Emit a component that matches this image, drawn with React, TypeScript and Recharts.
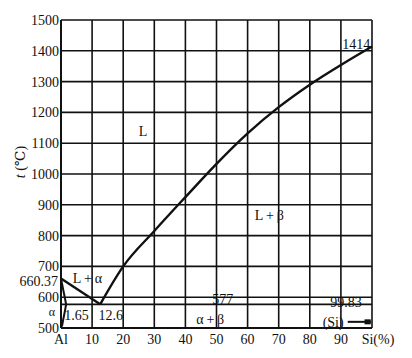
import React from 'react';
import {
  ComposedChart,
  Line,
  XAxis,
  YAxis,
  CartesianGrid,
  ReferenceDot,
  ReferenceLine
} from 'recharts';

// composition ticks (wt% Si) and temperature ticks (°C)
const X_TICKS = [0, 10, 20, 30, 40, 50, 60, 70, 80, 90, 100];
const T_TICKS = [500, 600, 700, 800, 900, 1000, 1100, 1200, 1300, 1400, 1500];

// liquidus, Al side: melting point of Al down to the eutectic
const LIQ_AL = [
  { x: 0, t: 660.37 },
  { x: 12.6, t: 577 }
];

// liquidus, Si side: eutectic up to melting point of Si
const LIQ_SI = [
  { x: 12.6, t: 577 },
  { x: 20, t: 700 },
  { x: 30, t: 815 },
  { x: 40, t: 925 },
  { x: 50, t: 1033 },
  { x: 60, t: 1132 },
  { x: 70, t: 1217 },
  { x: 80, t: 1290 },
  { x: 90, t: 1354 },
  { x: 100, t: 1414 }
];

// alpha solidus + solvus
const SOLIDUS_AL = [
  { x: 0, t: 660.37 },
  { x: 1.65, t: 577 }
];
const SOLVUS_AL = [
  { x: 1.65, t: 577 },
  { x: 1.2, t: 552 },
  { x: 0.7, t: 527 },
  { x: 0.3, t: 505 }
];

// eutectic isotherm (drawn from the axis, where the α label points)
const EUTECTIC = [
  { x: 0, t: 577 },
  { x: 100, t: 577 }
];

// region / point annotations
const NOTES = [
  { x: 26.4, t: 1140, text: 'L' },
  { x: 67, t: 867, text: 'L\u2009+\u2009β' },
  { x: 8.5, t: 663, text: 'L\u2009+\u2009α' },
  { x: 5, t: 542, text: '1.65' },
  { x: 16, t: 542, text: '12.6' },
  { x: 52, t: 594, text: '577' },
  { x: 48, t: 529, text: 'α\u2009+\u2009β' },
  { x: 91.6, t: 585, text: '99.83' },
  { x: 87.5, t: 520, text: '(Si)' },
  { x: 94.9, t: 1421, text: '1414' }
];

// annotations sitting left of the temperature axis
const SIDE_NOTES = [
  { t: 652, text: '660.37', offset: 3 },
  { t: 553, text: 'α', offset: 6 }
];

const FONT = "'Liberation Serif', 'DejaVu Serif', serif";
const INK = '#111';

const XTick = (props: any) => {
  const { x, y, payload } = props;
  const v = payload.value;
  const txt = v === 0 ? 'Al' : v === 100 ? 'Si(%)' : String(v);
  return (
    <text
      x={x + (v === 100 ? 6 : 0)}
      y={y}
      dy={14}
      textAnchor="middle"
      fontFamily={FONT}
      fontSize={14}
      fill={INK}
    >
      {txt}
    </text>
  );
};

// plain black text at the dot; anchor 'end' puts it left of the point
const noteLabel = (text: string, anchor: 'middle' | 'end', dx: number, size = 14) => (p: any) => {
  const vb = p.viewBox || {};
  const cx = (vb.x || 0) + (vb.width || 0) / 2;
  const cy = (vb.y || 0) + (vb.height || 0) / 2;
  return (
    <text
      x={cx + dx}
      y={cy}
      dy="0.35em"
      textAnchor={anchor}
      fontFamily={FONT}
      fontSize={size}
      fill={INK}
      stroke="none"
    >
      {text}
    </text>
  );
};

export default function App() {
  return (
    <div style={{ position: 'absolute', left: 0, top: 0, width: 412, height: 358, background: '#fff' }}>
      <ComposedChart
        width={412}
        height={358}
        margin={{ top: 20, right: 40, bottom: 0, left: 0 }}
      >
        <CartesianGrid stroke={INK} strokeWidth={1.6} />
        <XAxis
          type="number"
          dataKey="x"
          domain={[0, 100]}
          ticks={X_TICKS}
          interval={0}
          height={30}
          tickLine={false}
          tickSize={0}
          axisLine={{ stroke: INK, strokeWidth: 2 }}
          tick={<XTick />}
        />
        <YAxis
          type="number"
          dataKey="t"
          domain={[500, 1500]}
          ticks={T_TICKS}
          interval={0}
          width={61}
          tickLine={false}
          tickSize={0}
          tickMargin={2}
          axisLine={{ stroke: INK, strokeWidth: 2 }}
          tick={{ fontFamily: FONT, fontSize: 14, fill: INK }}
          label={{
            content: () => (
              <text
                x={25}
                y={162}
                transform="rotate(-90 25 162)"
                textAnchor="middle"
                fontFamily={FONT}
                fontSize={14}
                fill={INK}
              >
                <tspan fontStyle="italic">t</tspan> (℃)
              </text>
            )
          }}
        />
        <Line data={LIQ_AL} dataKey="t" type="linear" stroke={INK} strokeWidth={2.4} dot={false} isAnimationActive={false} />
        <Line data={LIQ_SI} dataKey="t" type="monotone" stroke={INK} strokeWidth={2.4} dot={false} isAnimationActive={false} />
        <Line data={SOLIDUS_AL} dataKey="t" type="linear" stroke={INK} strokeWidth={2} dot={false} isAnimationActive={false} />
        <Line data={SOLVUS_AL} dataKey="t" type="linear" stroke={INK} strokeWidth={2} dot={false} isAnimationActive={false} />
        <Line data={EUTECTIC} dataKey="t" type="linear" stroke={INK} strokeWidth={1.8} dot={false} isAnimationActive={false} />
        <ReferenceLine
          segment={[{ x: 92.2, y: 520 }, { x: 99.6, y: 520 }]}
          stroke={INK}
          strokeWidth={2}
        />
        <ReferenceLine
          segment={[{ x: 97.6, y: 520 }, { x: 99.6, y: 520 }]}
          stroke={INK}
          strokeWidth={5}
        />
        {NOTES.map((n, i) => (
          <ReferenceDot
            key={`n-${i}`}
            x={n.x}
            y={n.t}
            r={0}
            fill="none"
            stroke="none"
            label={{ content: noteLabel(n.text, 'middle', 0) }}
          />
        ))}
        {SIDE_NOTES.map((n, i) => (
          <ReferenceDot
            key={`s-${i}`}
            x={0}
            y={n.t}
            r={0}
            fill="none"
            stroke="none"
            label={{ content: noteLabel(n.text, 'end', -n.offset, n.text === 'α' ? 12 : 14) }}
          />
        ))}
      </ComposedChart>
    </div>
  );
}
